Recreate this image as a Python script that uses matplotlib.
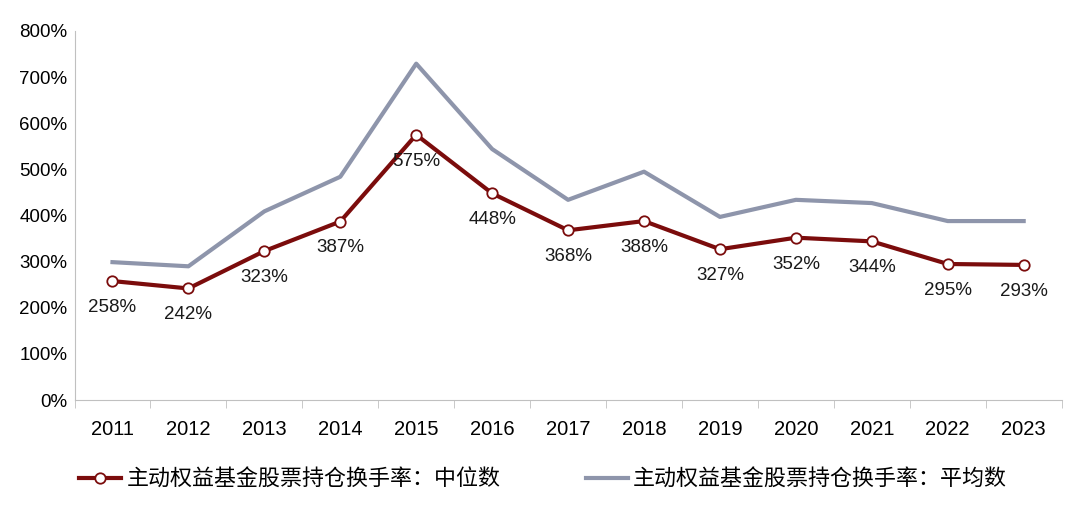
import matplotlib.pyplot as plt
import numpy as np

plt.rcParams['font.family'] = ['Liberation Sans', 'Noto Sans CJK SC', 'DejaVu Sans']

years = ['2011', '2012', '2013', '2014', '2015', '2016', '2017',
         '2018', '2019', '2020', '2021', '2022', '2023']
median = [258, 242, 323, 387, 575, 448, 368, 388, 327, 352, 344, 295, 293]
mean = [299, 290, 409, 484, 729, 544, 434, 495, 397, 434, 427, 388, 388]
label_median = '主动权益基金股票持仓换手率：中位数'
label_mean = '主动权益基金股票持仓换手率：平均数'

fig = plt.figure(figsize=(10.8, 5.15), dpi=100)
ax = fig.add_axes([0.069, 0.223, 0.914, 0.717])

x = np.arange(len(years))
ax.plot(x, mean, color='#8e95ab', lw=3, label=label_mean, zorder=2)
ax.plot(x, median, color='#7b0c0c', lw=3, marker='o', ms=7.5,
        mfc='white', mec='#7b0c0c', mew=1.3, label=label_median, zorder=3)

# data labels under the median line
for xi, v in zip(x, median):
    ax.annotate(f'{v}%', (xi, v), xytext=(0, -19), textcoords='offset points',
                ha='center', va='center', fontsize=13.5, color='#1a1a1a', zorder=4)

ax.set_xlim(-0.5, len(years) - 0.5)
ax.set_ylim(0, 800)
ax.set_yticks(range(0, 801, 100))
ax.set_yticklabels([f'{v}%' for v in range(0, 801, 100)])
ax.set_xticks(x)
ax.set_xticklabels(years)
ax.set_xticks(np.arange(-0.5, len(years), 1), minor=True)
ax.tick_params(axis='x', which='major', length=0, pad=14, labelsize=14.5)
ax.tick_params(axis='x', which='minor', length=6, color='#c0c0c0')
ax.tick_params(axis='y', length=0, pad=5, labelsize=13.5)

for s in ['top', 'right']:
    ax.spines[s].set_visible(False)
for s in ['left', 'bottom']:
    ax.spines[s].set_color('#c0c0c0')

h, l = ax.get_legend_handles_labels()
fig.legend(h[::-1], l[::-1], loc='center', bbox_to_anchor=(0.503, 0.067), ncol=2,
           frameon=False, fontsize=15.8, handlelength=1.9, handletextpad=0.25,
           columnspacing=3.9)

fig.savefig('out.png', dpi=100)
